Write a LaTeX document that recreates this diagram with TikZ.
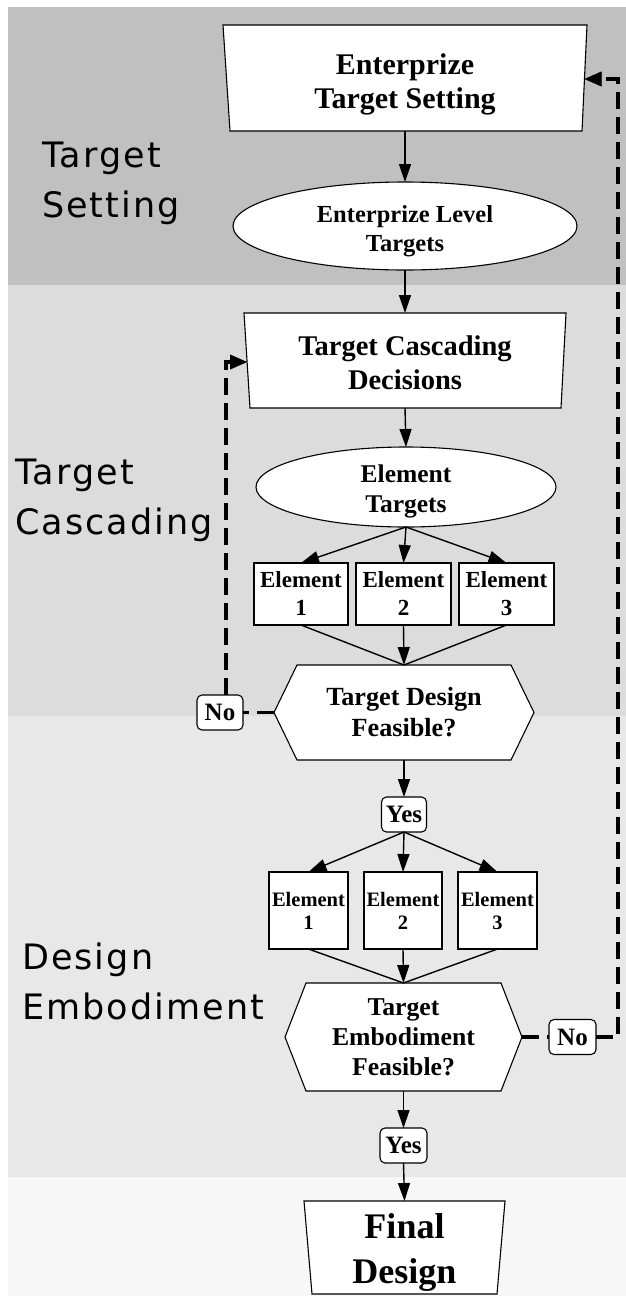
\documentclass[tikz,border=0pt]{standalone}
\usepackage{fontspec}
\setmainfont{Liberation Serif}
\newfontfamily\lblfont{DejaVu Sans}[LetterSpace=6]
\usetikzlibrary{arrows.meta,shapes.geometric,calc}
\definecolor{bandA}{gray}{0.753}
\definecolor{bandB}{gray}{0.863}
\definecolor{bandC}{gray}{0.91}
\definecolor{bandD}{gray}{0.969}
\newcommand\fsz[2]{\fontsize{#1}{#2}\selectfont\bfseries}
\begin{document}
\begin{tikzpicture}[x=1pt,y=-1pt,
  every node/.style={inner sep=0pt,outer sep=0pt},
  shapeline/.style={draw=black,line width=1.1pt,fill=white},
  geom/.style={draw=none,rectangle},
  txt/.style={align=center,text=black},
  elbox/.style={draw=black,line width=1.1pt,fill=white,rectangle,align=center},
  ynbox/.style={draw=black,line width=1.1pt,fill=white,rectangle,rounded corners=5pt,
     minimum height=35pt,align=center,font=\fsz{25}{30}},
  ell/.style={draw=black,line width=1.1pt,fill=white,ellipse},
  flow/.style={line width=1.4pt,-{Triangle[length=18pt,width=12pt]}},
  plainline/.style={line width=1.4pt},
  fb/.style={line width=3.5pt,dash pattern=on 17pt off 8pt},
  fbarrow/.style={fb,-{Triangle[length=17pt,width=15pt,line width=0.4pt]}},
  sidelabel/.style={anchor=west,align=left,font=\lblfont\fontsize{35}{50}\selectfont,text=black}]
\useasboundingbox (0,0) rectangle (626,1296);
% background bands
\fill[white] (0,0) rectangle (626,1296);
\fill[bandA] (8,7) rectangle (626,285);
\fill[bandB] (8,285) rectangle (626,716);
\fill[bandC] (8,716) rectangle (626,1177);
\fill[bandD] (8,1177) rectangle (626,1296);
% side labels
\node[sidelabel] (lab1) at (42,183) {Target\\Setting};
\node[sidelabel] (lab2) at (15,500) {Target\\Cascading};
\node[sidelabel] (lab3) at (22,981) {Design\\Embodiment};
% enterprize target setting
\filldraw[shapeline] (223,25) -- (587,25) -- (582,131) -- (230,131) -- cycle;
\node[geom,minimum width=364pt,minimum height=106pt] (t1) at (405,78) {};
\node[txt,font=\fsz{30}{34}] (t1t) at (405,84) {Enterprize\\Target Setting};
\coordinate (t1r) at (584.5,79);
% enterprize level targets
\node[ell,minimum width=344pt,minimum height=88pt] (e1) at (405,226) {};
\node[txt,font=\fsz{24.5}{29}] (e1t) at (405,231.5) {Enterprize Level\\Targets};
% target cascading decisions
\filldraw[shapeline] (244,313) -- (566,313) -- (561,408) -- (250,408) -- cycle;
\node[geom,minimum width=322pt,minimum height=95pt] (t2) at (405,360.5) {};
\node[txt,font=\fsz{28.5}{34}] (t2t) at (405,363) {Target Cascading\\Decisions};
\coordinate (t2l) at (247,362);
% element targets
\node[ell,minimum width=300pt,minimum height=80pt] (e2) at (406,487) {};
\node[txt,font=\fsz{25.5}{30}] (e2t) at (406,491) {Element\\Targets};
% element boxes row 1
\node[elbox,minimum width=94pt,minimum height=62pt,font=\fsz{23}{28}] (b1) at (301,594) {Element\\1};
\node[elbox,minimum width=95pt,minimum height=62pt,font=\fsz{23}{28}] (b2) at (403.5,594) {Element\\2};
\node[elbox,minimum width=95pt,minimum height=62pt,font=\fsz{23}{28}] (b3) at (506.5,594) {Element\\3};
% hexagon 1
\filldraw[shapeline] (274,712.5) -- (297,665) -- (511,665) -- (534,712.5) -- (511,760) -- (297,760) -- cycle;
\node[geom,txt,minimum width=260pt,minimum height=95pt,font=\fsz{26.2}{31}] (h1) at (404,712.5) {Target Design\\Feasible?};
% no 1
\node[ynbox,minimum width=46pt] (no1) at (220,712.5) {No};
\coordinate (c1) at (226,362);
% yes 1
\node[ynbox,minimum width=45pt] (yes1) at (404,814.5) {Yes};
% element boxes row 2
\node[elbox,minimum width=79pt,minimum height=77pt,font=\fsz{20.5}{23}] (c1b) at (308.5,910.5) {Element\\1};
\node[elbox,minimum width=78pt,minimum height=77pt,font=\fsz{20.5}{23}] (c2b) at (403,910.5) {Element\\2};
\node[elbox,minimum width=79pt,minimum height=77pt,font=\fsz{20.5}{23}] (c3b) at (497.5,910.5) {Element\\3};
% hexagon 2
\filldraw[shapeline] (285,1037) -- (306,983) -- (501,983) -- (522,1037) -- (501,1091) -- (306,1091) -- cycle;
\node[geom,txt,minimum width=237pt,minimum height=108pt,font=\fsz{25.7}{30}] (h2) at (403.5,1037) {Target\\Embodiment\\Feasible?};
% no 2
\node[ynbox,minimum width=47pt] (no2) at (572.5,1037) {No};
\coordinate (c2) at (618,79);
% yes 2
\node[ynbox,minimum width=47pt] (yes2) at (403.5,1145.5) {Yes};
% final design
\filldraw[shapeline] (304,1201) -- (505,1201) -- (497,1294) -- (312,1294) -- cycle;
\node[geom,minimum width=201pt,minimum height=93pt] (fd) at (404.5,1247.5) {};
\node[txt,font=\fsz{36}{45}] (fdt) at (404.5,1252) {Final\\Design};
% connectors
\draw[flow] (t1.south) -- (e1.north);
\draw[flow] (e1.south) -- (t2.north);
\draw[flow] (t2.south) -- (e2.north);
\draw[flow] (e2.south) -- (b1.north);
\draw[flow] (e2.south) -- (b2.north);
\draw[flow] (e2.south) -- (b3.north);
\draw[plainline] (b1.south) -- (h1.north);
\draw[flow] (b2.south) -- (h1.north);
\draw[plainline] (b3.south) -- (h1.north);
\draw[flow] (h1.south) -- (yes1.north);
\draw[flow] (yes1.south) -- (c1b.north);
\draw[flow] (yes1.south) -- (c2b.north);
\draw[flow] (yes1.south) -- (c3b.north);
\draw[plainline] (c1b.south) -- (h2.north);
\draw[flow] (c2b.south) -- (h2.north);
\draw[plainline] (c3b.south) -- (h2.north);
\draw[flow] (h2.south) -- (yes2.north);
\draw[flow] (yes2.south) -- (fd.north);
% feedback loops
\draw[fb] (h1.west) -- (no1.east);
\draw[fbarrow] (no1.north -| c1) -- (c1) -- (t2l);
\draw[fb] (h2.east) -- (no2.west);
\draw[fbarrow] (no2.east) -- (no2.east -| c2) -- (c2) -- (t1r);
\end{tikzpicture}
\end{document}
